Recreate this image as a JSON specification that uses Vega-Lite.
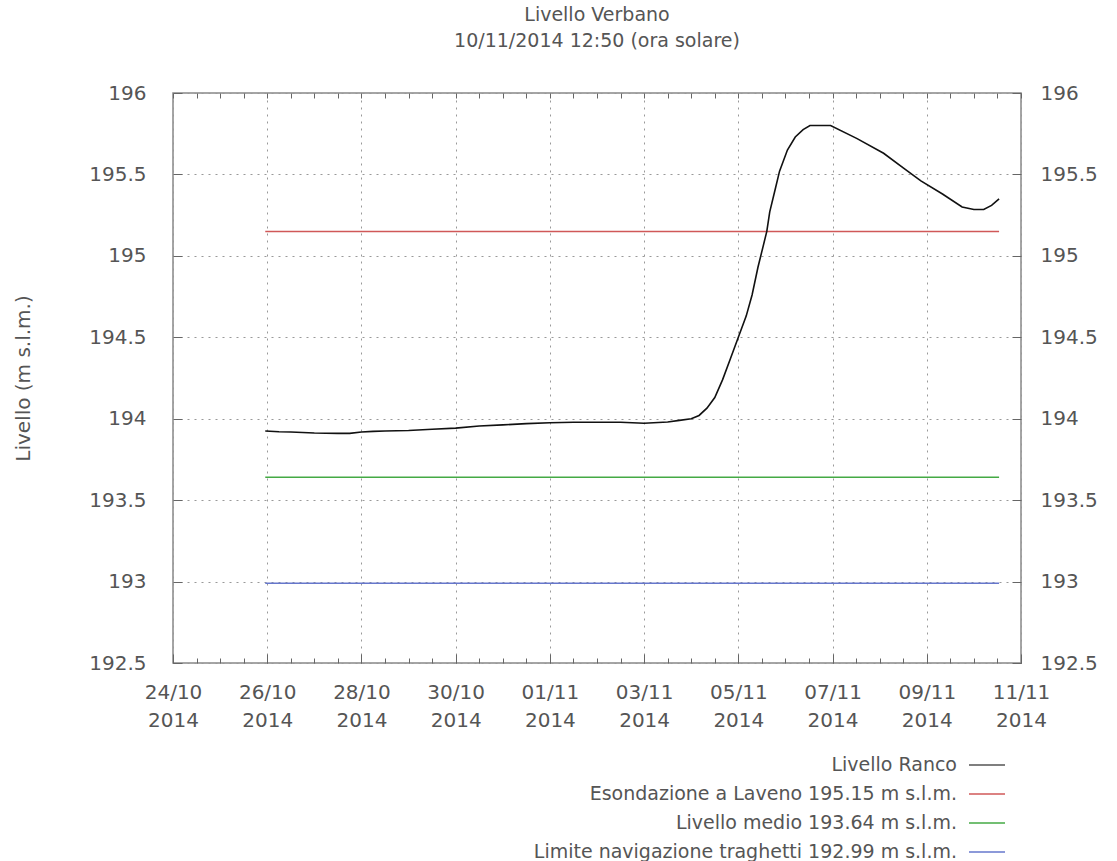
{
  "$schema": "https://vega.github.io/schema/vega-lite/v6.json",
  "autosize": "none",
  "width": 848,
  "height": 570,
  "padding": {"left": 173, "top": 93, "right": 96, "bottom": 198},
  "background": "white",
  "config": {
    "font": "DejaVu Sans",
    "view": {"stroke": "#888888", "strokeWidth": 1.5},
    "axis": {"labelFont": "DejaVu Sans", "labelColor": "#555555", "labelFontSize": 20, "titleColor": "#555555", "titleFont": "DejaVu Sans", "titleFontWeight": "normal"},
    "legend": {"labelFont": "DejaVu Sans", "labelColor": "#555555"}
  },
  "title": {
    "text": ["Livello Verbano", "10/11/2014 12:50 (ora solare)"],
    "fontSize": 19,
    "fontWeight": "normal",
    "color": "#555555",
    "font": "DejaVu Sans",
    "anchor": "middle",
    "frame": "group",
    "lineHeight": 26,
    "offset": 32
  },
  "datasets": {
    "livello": [
      {"t": "2014-10-25T23:00:00Z", "v": 193.925, "serie": "Livello Ranco"},
      {"t": "2014-10-26T06:00:00Z", "v": 193.92, "serie": "Livello Ranco"},
      {"t": "2014-10-26T12:00:00Z", "v": 193.918, "serie": "Livello Ranco"},
      {"t": "2014-10-26T18:00:00Z", "v": 193.915, "serie": "Livello Ranco"},
      {"t": "2014-10-27T00:00:00Z", "v": 193.912, "serie": "Livello Ranco"},
      {"t": "2014-10-27T12:00:00Z", "v": 193.91, "serie": "Livello Ranco"},
      {"t": "2014-10-27T18:00:00Z", "v": 193.91, "serie": "Livello Ranco"},
      {"t": "2014-10-28T00:00:00Z", "v": 193.918, "serie": "Livello Ranco"},
      {"t": "2014-10-28T06:00:00Z", "v": 193.922, "serie": "Livello Ranco"},
      {"t": "2014-10-28T12:00:00Z", "v": 193.925, "serie": "Livello Ranco"},
      {"t": "2014-10-29T00:00:00Z", "v": 193.928, "serie": "Livello Ranco"},
      {"t": "2014-10-29T12:00:00Z", "v": 193.935, "serie": "Livello Ranco"},
      {"t": "2014-10-30T00:00:00Z", "v": 193.942, "serie": "Livello Ranco"},
      {"t": "2014-10-30T12:00:00Z", "v": 193.955, "serie": "Livello Ranco"},
      {"t": "2014-10-31T00:00:00Z", "v": 193.962, "serie": "Livello Ranco"},
      {"t": "2014-10-31T12:00:00Z", "v": 193.97, "serie": "Livello Ranco"},
      {"t": "2014-11-01T00:00:00Z", "v": 193.975, "serie": "Livello Ranco"},
      {"t": "2014-11-01T12:00:00Z", "v": 193.978, "serie": "Livello Ranco"},
      {"t": "2014-11-02T00:00:00Z", "v": 193.978, "serie": "Livello Ranco"},
      {"t": "2014-11-02T12:00:00Z", "v": 193.978, "serie": "Livello Ranco"},
      {"t": "2014-11-03T00:00:00Z", "v": 193.972, "serie": "Livello Ranco"},
      {"t": "2014-11-03T12:00:00Z", "v": 193.98, "serie": "Livello Ranco"},
      {"t": "2014-11-03T18:00:00Z", "v": 193.99, "serie": "Livello Ranco"},
      {"t": "2014-11-04T00:00:00Z", "v": 194.0, "serie": "Livello Ranco"},
      {"t": "2014-11-04T04:00:00Z", "v": 194.02, "serie": "Livello Ranco"},
      {"t": "2014-11-04T08:00:00Z", "v": 194.065, "serie": "Livello Ranco"},
      {"t": "2014-11-04T12:00:00Z", "v": 194.13, "serie": "Livello Ranco"},
      {"t": "2014-11-04T16:00:00Z", "v": 194.24, "serie": "Livello Ranco"},
      {"t": "2014-11-04T20:00:00Z", "v": 194.37, "serie": "Livello Ranco"},
      {"t": "2014-11-05T00:00:00Z", "v": 194.5, "serie": "Livello Ranco"},
      {"t": "2014-11-05T04:00:00Z", "v": 194.63, "serie": "Livello Ranco"},
      {"t": "2014-11-05T07:00:00Z", "v": 194.76, "serie": "Livello Ranco"},
      {"t": "2014-11-05T10:00:00Z", "v": 194.93, "serie": "Livello Ranco"},
      {"t": "2014-11-05T14:30:00Z", "v": 195.15, "serie": "Livello Ranco"},
      {"t": "2014-11-05T16:00:00Z", "v": 195.27, "serie": "Livello Ranco"},
      {"t": "2014-11-05T19:00:00Z", "v": 195.42, "serie": "Livello Ranco"},
      {"t": "2014-11-05T21:00:00Z", "v": 195.52, "serie": "Livello Ranco"},
      {"t": "2014-11-06T01:00:00Z", "v": 195.65, "serie": "Livello Ranco"},
      {"t": "2014-11-06T05:00:00Z", "v": 195.73, "serie": "Livello Ranco"},
      {"t": "2014-11-06T09:00:00Z", "v": 195.775, "serie": "Livello Ranco"},
      {"t": "2014-11-06T12:30:00Z", "v": 195.8, "serie": "Livello Ranco"},
      {"t": "2014-11-06T23:00:00Z", "v": 195.8, "serie": "Livello Ranco"},
      {"t": "2014-11-07T12:30:00Z", "v": 195.72, "serie": "Livello Ranco"},
      {"t": "2014-11-08T02:00:00Z", "v": 195.63, "serie": "Livello Ranco"},
      {"t": "2014-11-08T12:00:00Z", "v": 195.54, "serie": "Livello Ranco"},
      {"t": "2014-11-08T21:00:00Z", "v": 195.46, "serie": "Livello Ranco"},
      {"t": "2014-11-09T08:00:00Z", "v": 195.38, "serie": "Livello Ranco"},
      {"t": "2014-11-09T18:00:00Z", "v": 195.3, "serie": "Livello Ranco"},
      {"t": "2014-11-10T00:00:00Z", "v": 195.285, "serie": "Livello Ranco"},
      {"t": "2014-11-10T05:00:00Z", "v": 195.285, "serie": "Livello Ranco"},
      {"t": "2014-11-10T09:00:00Z", "v": 195.31, "serie": "Livello Ranco"},
      {"t": "2014-11-10T12:50:00Z", "v": 195.35, "serie": "Livello Ranco"}
    ],
    "soglie": [
      {"inizio": "2014-10-25T23:00:00Z", "fine": "2014-11-10T12:50:00Z", "v": 195.15, "serie": "Esondazione a Laveno 195.15 m s.l.m."},
      {"inizio": "2014-10-25T23:00:00Z", "fine": "2014-11-10T12:50:00Z", "v": 193.64, "serie": "Livello medio 193.64 m s.l.m."},
      {"inizio": "2014-10-25T23:00:00Z", "fine": "2014-11-10T12:50:00Z", "v": 192.99, "serie": "Limite navigazione traghetti 192.99 m s.l.m."}
    ]
  },
  "layer": [
    {
      "data": {"name": "soglie"},
      "transform": [{"filter": "datum.v > 194"}],
      "mark": {"type": "rule", "strokeWidth": 1.5},
      "encoding": {
        "x": {"field": "inizio", "type": "temporal",
          "scale": {"type": "utc", "domain": [{"year": 2014, "month": 10, "date": 24, "utc": true}, {"year": 2014, "month": 11, "date": 11, "utc": true}]},
          "axis": {
            "orient": "bottom",
            "title": null,
            "domain": false,
            "values": [
              {"year": 2014, "month": 10, "date": 24, "utc": true},
              {"year": 2014, "month": 10, "date": 26, "utc": true},
              {"year": 2014, "month": 10, "date": 28, "utc": true},
              {"year": 2014, "month": 10, "date": 30, "utc": true},
              {"year": 2014, "month": 11, "date": 1, "utc": true},
              {"year": 2014, "month": 11, "date": 3, "utc": true},
              {"year": 2014, "month": 11, "date": 5, "utc": true},
              {"year": 2014, "month": 11, "date": 7, "utc": true},
              {"year": 2014, "month": 11, "date": 9, "utc": true},
              {"year": 2014, "month": 11, "date": 11, "utc": true}
            ],
            "tickColor": "#666666",
            "tickSize": -9,
            "grid": true,
            "gridColor": "#999999",
            "gridDash": [2, 5],
            "labelExpr": "[utcFormat(datum.value, '%d/%m'), utcFormat(datum.value, '%Y')]",
            "labelPadding": 28,
            "labelBaseline": "top",
            "labelLineHeight": 28,
            "labelOverlap": false,
            "labelFlush": false
          }
        },
        "x2": {"field": "fine"},
        "y": {"field": "v", "type": "quantitative",
          "scale": {"domain": [192.5, 196], "nice": false, "zero": false},
          "axis": {
            "orient": "left",
            "title": "Livello (m s.l.m.)",
            "titleFontSize": 20,
            "titlePadding": 55,
            "domain": false,
            "values": [192.5, 193, 193.5, 194, 194.5, 195, 195.5, 196],
            "format": "~f",
            "tickColor": "#666666",
            "tickSize": -9,
            "labelPadding": 36,
            "grid": true,
            "gridColor": "#999999",
            "gridDash": [2, 5]
          }
        },
        "color": {"field": "serie", "type": "nominal",
          "scale": {
            "domain": ["Livello Ranco", "Esondazione a Laveno 195.15 m s.l.m.", "Livello medio 193.64 m s.l.m.", "Limite navigazione traghetti 192.99 m s.l.m."],
            "range": ["#555555", "#d05858", "#44aa44", "#6677cc"]
          },
          "legend": {
            "orient": "none",
            "legendX": 795,
            "legendY": 653,
            "title": null,
            "symbolType": "stroke",
            "symbolSize": 1296,
            "symbolStrokeWidth": 1.5,
            "labelAlign": "right",
            "labelOffset": -49,
            "labelFontSize": 19,
            "labelLimit": 600,
            "rowPadding": 0
          }
        }
      }
    },
    {
      "data": {"name": "soglie"},
      "transform": [{"filter": "datum.v < 194"}],
      "mark": {"type": "rule", "strokeWidth": 1.5},
      "encoding": {
        "x": {"field": "inizio", "type": "temporal",
          "axis": {
            "orient": "bottom",
            "title": null,
            "domain": false,
            "labels": false,
            "grid": false,
            "tickCount": 36,
            "tickColor": "#666666",
            "tickSize": -5
          }
        },
        "x2": {"field": "fine"},
        "y": {"field": "v", "type": "quantitative", "axis": null},
        "color": {"field": "serie", "type": "nominal"}
      }
    },
    {
      "data": {"name": "livello"},
      "mark": {"type": "line", "strokeWidth": 1.6, "color": "#111111"},
      "encoding": {
        "x": {"field": "t", "type": "temporal",
          "axis": {
            "orient": "top",
            "title": null,
            "domain": false,
            "labels": false,
            "grid": false,
            "tickCount": 36,
            "tickColor": "#666666",
            "tickSize": -5
          }
        },
        "y": {"field": "v", "type": "quantitative",
          "axis": {
            "orient": "right",
            "title": null,
            "domain": false,
            "values": [192.5, 193, 193.5, 194, 194.5, 195, 195.5, 196],
            "format": "~f",
            "tickColor": "#666666",
            "tickSize": -9,
            "labelPadding": 28,
            "grid": false
          }
        }
      }
    }
  ],
  "resolve": {"axis": {"x": "independent", "y": "independent"}}
}
